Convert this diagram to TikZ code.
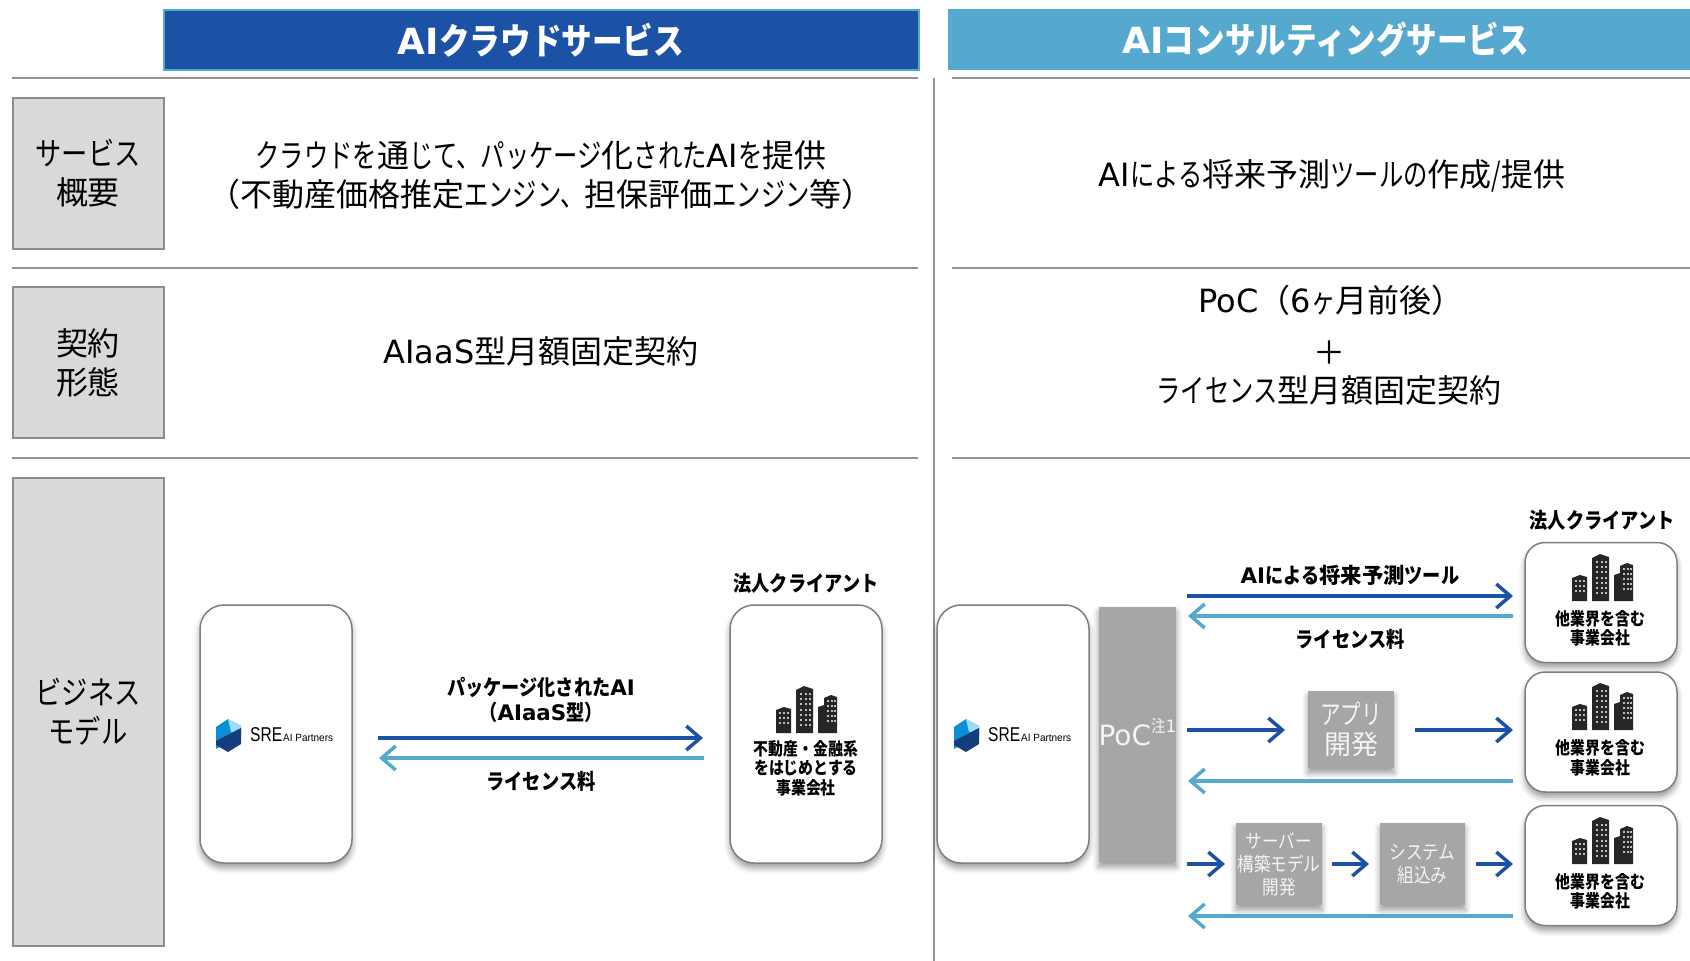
\documentclass[tikz,border=0pt]{standalone}
\usepackage{fontspec}
\setmainfont{Noto Sans CJK JP}[FakeStretch=0.85]
\newfontfamily\kns{Noto Sans CJK JP}[FakeStretch=0.76]
\newfontfamily\kls{Noto Sans CJK JP}[FakeStretch=0.82]
\newfontfamily\kjf{Noto Sans CJK JP}
\newfontfamily\lat{DejaVu Sans}
\newfontfamily\logofont{Liberation Sans}[FakeStretch=0.78]
\newfontfamily\logosm{Liberation Sans}[FakeStretch=0.95]
\usetikzlibrary{arrows.meta,shadows.blur}
\definecolor{dkblue}{HTML}{1B52A6}
\definecolor{ltblue}{HTML}{55A9CE}
\definecolor{boxgrey}{HTML}{D9D9D9}
\definecolor{edgegrey}{HTML}{7F7F7F}
\definecolor{solidgrey}{HTML}{A6A6A6}
\definecolor{bldg}{HTML}{262626}
\newcommand{\la}[1]{{\lat #1}}
\newcommand{\K}[1]{{\kjf #1}}
\tikzset{
  softshadow/.style={blur shadow={shadow xshift=0pt,shadow yshift=-5pt,shadow blur radius=6pt,shadow opacity=40}},
  headbox/.style={minimum height=60pt,inner sep=0pt,font=\fontsize{36}{44}\selectfont\bfseries,text=white},
  rule/.style={draw=edgegrey!85,line width=2.5pt},
  labelbox/.style={draw=edgegrey!90,line width=2pt,fill=boxgrey,minimum width=151pt,inner sep=0pt,align=center,font=\fontsize{32}{39}\selectfont\kls},
  bigtext/.style={inner sep=0pt,align=center,font=\fontsize{32}{39}\selectfont\kns},
  flowlabel/.style={inner sep=0pt,align=center,font=\fontsize{21.4}{25}\selectfont\bfseries},
  cardtext/.style={inner sep=0pt,align=center,font=\fontsize{17.5}{19.5}\selectfont\bfseries},
  card/.style={draw=edgegrey,line width=1.5pt,fill=white,rounded corners=24pt,minimum width=152pt,inner sep=0pt,softshadow},
  client/.style={draw=edgegrey,line width=1.5pt,fill=white,rounded corners=20pt,minimum width=152pt,minimum height=120pt,inner sep=0pt,softshadow},
  stepgrey/.style={fill=solidgrey,inner sep=0pt,align=center,text=white!88!solidgrey,softshadow},
  darrow/.style={draw=dkblue,line width=4pt,-{Straight Barb[length=14pt,width=24pt,line width=3.5pt]}},
  larrow/.style={draw=ltblue,line width=4pt,-{Straight Barb[length=14pt,width=24pt,line width=3.5pt]}},
  pics/towers/.style={code={
    \fill[bldg] (-30,0) -- (-30,-23) -- (-22,-26) -- (-15,-24) -- (-15,0) -- cycle;
    \fill[bldg] (-10,0) -- (-10,-43) -- (-2,-47) -- (7,-44) -- (7,0) -- cycle;
    \fill[bldg] (12,0) -- (12,-26) -- (18,-28) -- (18,-35) -- (25,-38) -- (31,-36) -- (31,0) -- cycle;
    \foreach \bx in {-27,-23,-19}{\foreach \wy in {-21,-16,-11}{\fill[white!70!bldg] (\bx,\wy) rectangle ++(2,2);}}
    \foreach \bx in {-6,-1,3}{\foreach \wy in {-40,-35,-30,-24,-19,-14,-9}{\fill[white!70!bldg] (\bx,\wy) rectangle ++(2,2);}}
    \foreach \bx in {21,25,28}{\foreach \wy in {-33,-28,-23,-18,-13}{\fill[white!70!bldg] (\bx,\wy) rectangle ++(1.6,2);}}
  }},
  pics/srelogo/.style={code={
    \fill[cyan!75!blue] (0,-8) -- (12,-16) -- (25,-9) -- (25,0) -- (0,14) -- cycle;
    \fill[cyan!40!white] (12,-16) -- (25,-9) -- (25,-1) -- (15,-3) -- cycle;
    \fill[dkblue!75!black] (0,6) -- (25,-7) -- (25,9) -- (12,17) -- (0,10) -- cycle;
    \node[inner sep=0pt,anchor=west] at (34,0) {\logofont\fontsize{20}{20}\selectfont SRE};
    \node[inner sep=0pt,anchor=west] at (67,3) {\logosm\fontsize{10.5}{10.5}\selectfont AI Partners};
  }}
}
\begin{document}
\begin{tikzpicture}[x=1pt,y=-1pt]
\useasboundingbox (0,0) rectangle (1690,961);
% headers
\node[headbox,fill=dkblue,draw=ltblue,line width=2pt,minimum width=755pt] (h1) at (541,40) {\la{AI}クラウドサービス};
\node[headbox,fill=ltblue,minimum width=756pt,minimum height=61pt] (h2) at (1326,39.5) {\la{AI}コンサルティングサービス};
% rules
\coordinate (r1a) at (12,78); \coordinate (r1b) at (918,78);
\coordinate (r1c) at (952,78); \coordinate (r1d) at (1690,78);
\coordinate (r2a) at (12,268); \coordinate (r2b) at (918,268);
\coordinate (r2c) at (952,268); \coordinate (r2d) at (1690,268);
\coordinate (r3a) at (12,458); \coordinate (r3b) at (918,458);
\coordinate (r3c) at (952,458); \coordinate (r3d) at (1690,458);
\coordinate (vt) at (934,78); \coordinate (vb) at (934,961);
\draw[rule] (r1a) -- (r1b); \draw[rule] (r1c) -- (r1d);
\draw[rule] (r2a) -- (r2b); \draw[rule] (r2c) -- (r2d);
\draw[rule] (r3a) -- (r3b); \draw[rule] (r3c) -- (r3d);
\draw[rule] (vt) -- (vb);
% label boxes
\node[labelbox,minimum height=151pt] (l1) at (88,173) {サービス\\\K{概要}};
\node[labelbox,minimum height=151pt] (l2) at (88,362.5) {\K{契約}\\\K{形態}};
\node[labelbox,minimum height=468pt] (l3) at (88,711.5) {ビジネス\\モデル};
% row texts
\node[bigtext] (t1) at (541,175) {クラウドを\K{通}じて、パッケージ\K{化}された\la{AI}を\K{提供}\\\K{（不動産価格推定}エンジン、\K{担保評価}エンジン\K{等）}};
\node[bigtext] (t2) at (1332,176) {\la{AI}による\K{将来予測}ツールの\K{作成}/\K{提供}};
\node[bigtext] (t3) at (541,351) {\la{AIaaS}\K{型月額固定契約}};
\node[bigtext] (t4) at (1331,300) {\la{PoC}\K{（}\la{6}ヶ\K{月前後）}};
\node[bigtext] (t5) at (1329,353) {\K{＋}};
\node[bigtext] (t6) at (1329,390) {ライセンス\K{型月額固定契約}};
% left model
\node[card,minimum height=258pt] (c1) at (276,734) {};
\pic at (216,735) {srelogo};
\node[card,minimum height=258pt] (c2) at (806,734) {};
\pic at (806,733) {towers};
\node[cardtext] (c2t) at (806,768) {不動産・金融系\\をはじめとする\\事業会社};
\node[flowlabel] (lc1) at (806,583) {法人クライアント};
\node[flowlabel] (f1) at (541,700) {パッケージ化された\la{AI}\\（\la{AIaaS}型）};
\node[flowlabel] (f2) at (541,781) {ライセンス料};
\coordinate (a1s) at (378,738); \coordinate (a1e) at (703,738);
\coordinate (a2s) at (704,758); \coordinate (a2e) at (379,758);
\draw[darrow] (a1s) -- (a1e);
\draw[larrow] (a2s) -- (a2e);
% right model
\node[card,minimum height=258pt] (c3) at (1013,734) {};
\pic at (954,735) {srelogo};
\node[stepgrey,minimum width=77pt,minimum height=255pt,font=\fontsize{28}{32}\selectfont] (poc) at (1137.5,734.5) {\raisebox{5pt}{\la{PoC}\raisebox{.45em}{\fontsize{17}{17}\selectfont 注\la{1}}}};
\node[client] (k1) at (1601,602.5) {};
\node[client] (k2) at (1601,732) {};
\node[client] (k3) at (1601,865.5) {};
\pic at (1602,601) {towers};
\pic at (1602,730) {towers};
\pic at (1602,864) {towers};
\node[cardtext] (k1t) at (1600.5,628.5) {他業界を含む\\事業会社};
\node[cardtext] (k2t) at (1600.5,758) {他業界を含む\\事業会社};
\node[cardtext] (k3t) at (1600.5,891.5) {他業界を含む\\事業会社};
\node[flowlabel] (lc2) at (1602,520) {法人クライアント};
\node[flowlabel] (f3) at (1350,575) {\la{AI}による\K{将来予測}ツール};
\node[flowlabel] (f4) at (1350,639) {ライセンス料};
\node[stepgrey,minimum width=86pt,minimum height=77pt,font=\fontsize{27}{30}\selectfont\kns] (app) at (1351,729.5) {アプリ\\\K{開発}};
\node[stepgrey,minimum width=86pt,minimum height=82pt,font=\fontsize{19.5}{23}\selectfont] (srv) at (1279,864) {サーバー\\構築モデル\\開発};
\node[stepgrey,minimum width=85pt,minimum height=82pt,font=\fontsize{19.5}{23}\selectfont] (sys) at (1422.5,864) {システム\\組込み};
\coordinate (p1) at (1187,596); \coordinate (q1) at (1513,596);
\coordinate (q2) at (1513,616); \coordinate (p2) at (1188,616);
\coordinate (p3) at (1187,730); \coordinate (x3) at (1285,730);
\coordinate (x4) at (1415,730); \coordinate (q4) at (1513,730);
\coordinate (q5) at (1513,781); \coordinate (p5) at (1188,781);
\coordinate (p6) at (1187,864); \coordinate (x6) at (1225,864);
\coordinate (x7) at (1332,864); \coordinate (y7) at (1369,864);
\coordinate (x8) at (1476,864); \coordinate (q8) at (1513,864);
\coordinate (q9) at (1513,916); \coordinate (p9) at (1188,916);
\draw[darrow] (p1) -- (q1);
\draw[larrow] (q2) -- (p2);
\draw[darrow] (p3) -- (x3);
\draw[darrow] (x4) -- (q4);
\draw[larrow] (q5) -- (p5);
\draw[darrow] (p6) -- (x6);
\draw[darrow] (x7) -- (y7);
\draw[darrow] (x8) -- (q8);
\draw[larrow] (q9) -- (p9);
\end{tikzpicture}
\end{document}
